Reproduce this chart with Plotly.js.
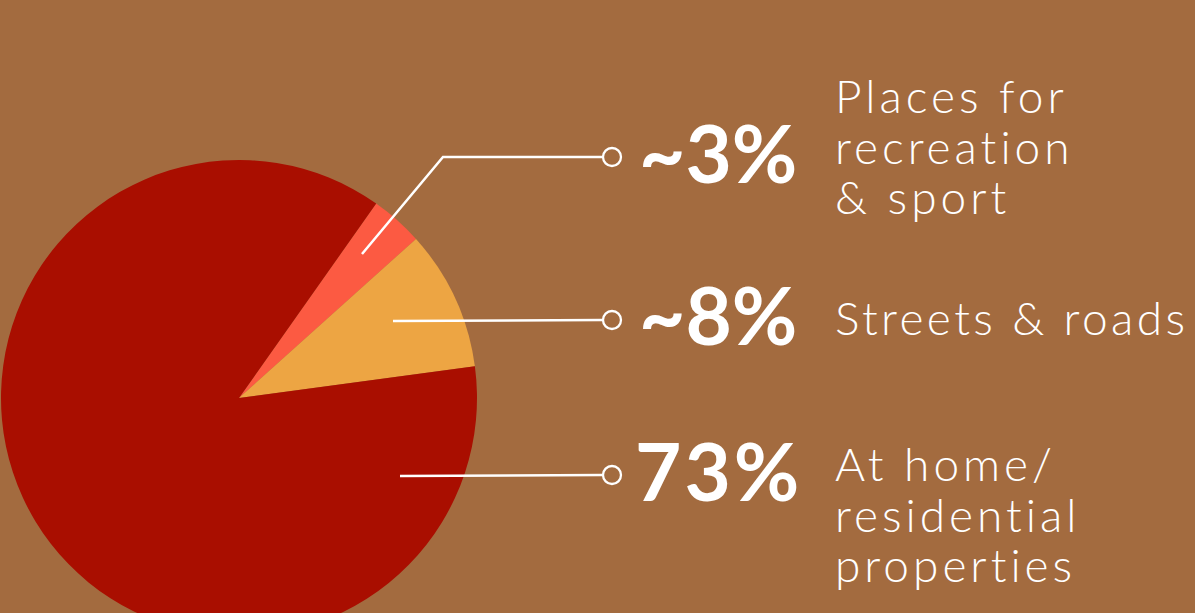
<!DOCTYPE html>
<html>
<head>
<meta charset="utf-8">
<script src="https://cdn.plot.ly/plotly-3.0.1.min.js"></script>
<style>
  html, body { margin: 0; padding: 0; overflow: hidden; background: #A36B3F; }
  #chart { width: 1195px; height: 700px; }
</style>
</head>
<body>
<div id="chart"></div>
<script>
// ---- data ----
const categories = ['Places for recreation & sport', 'Streets & roads', 'At home/residential properties'];
const values = [3, 8, 73];
const sliceColors = ['#FC5A42', '#EDA543', '#A90E00'];
const pctLabels = ['~3%', '~8%', '73%'];
const descLines = [
  ['Places for', 'recreation', '& sport'],
  ['Streets & roads'],
  ['At home/', 'residential', 'properties']
];

// ---- layout helpers (pixel -> paper) ----
const W = 1195, H = 700;
const BG = '#A36B3F';
const px = x => x / W;
const py = y => 1 - y / H;
const spaced = (t, ls) => '<span style="letter-spacing:' + ls + 'px">' + t.replace(/&/g, '&amp;') + '</span>';

const pie = {
  type: 'pie',
  labels: categories,
  values: values,
  marker: { colors: sliceColors, line: { width: 0 } },
  sort: false,
  direction: 'clockwise',
  rotation: 35.2,
  textinfo: 'none',
  hoverinfo: 'skip',
  showlegend: false,
  domain: { x: [px(1), px(477)], y: [py(636), py(160)] }
};

// leader lines (pixel geometry)
const leaders = [
  { pts: [[362, 254], [443, 157], [603, 157]], c: [612, 157] },
  { pts: [[393, 321], [603, 320]], c: [612, 320] },
  { pts: [[400, 476], [603, 475]], c: [612, 475] }
];
const shapes = [];
leaders.forEach(l => {
  const path = l.pts.map((p, i) => (i ? 'L' : 'M') + px(p[0]) + ',' + py(p[1])).join(' ');
  shapes.push({ type: 'path', xref: 'paper', yref: 'paper', path: path,
    line: { color: 'white', width: 2.5 } });
  const r = 9;
  shapes.push({ type: 'circle', xref: 'paper', yref: 'paper',
    x0: px(l.c[0] - r), x1: px(l.c[0] + r), y0: py(l.c[1] + r), y1: py(l.c[1] - r),
    line: { color: 'white', width: 2.3 }, fillcolor: BG });
});

const annotations = [];
const pctPos = [[638, 152], [638, 314], [634, 470]];
const pctSpacing = [0, 0, 3];
pctLabels.forEach((t, i) => {
  annotations.push({ text: pctSpacing[i] ? spaced(t, pctSpacing[i]) : t,
    xref: 'paper', yref: 'paper', x: px(pctPos[i][0]), y: py(pctPos[i][1]),
    xanchor: 'left', yanchor: 'middle', align: 'left', showarrow: false, borderpad: 0,
    font: { family: 'Lato', size: 80, color: 'white', weight: 700 } });
});
const descPos = [[96, 147, 197], [317], [463, 514, 564]];
const descSpacing = [[4, 4, 4], [3.4], [4, 4, 4]];
descLines.forEach((lines, i) => {
  lines.forEach((t, j) => {
    annotations.push({ text: spaced(t, descSpacing[i][j]), xref: 'paper', yref: 'paper',
      x: px(834), y: py(descPos[i][j]),
      xanchor: 'left', yanchor: 'middle', align: 'left', showarrow: false, borderpad: 0,
      font: { family: 'Lato', size: 46, color: 'white', weight: 300 } });
  });
});

const layout = {
  width: W, height: H,
  margin: { l: 0, r: 0, t: 0, b: 0 },
  paper_bgcolor: BG, plot_bgcolor: BG,
  shapes: shapes,
  annotations: annotations,
  showlegend: false
};

Plotly.newPlot('chart', [pie], layout, { displayModeBar: false, staticPlot: true });
</script>
</body>
</html>
